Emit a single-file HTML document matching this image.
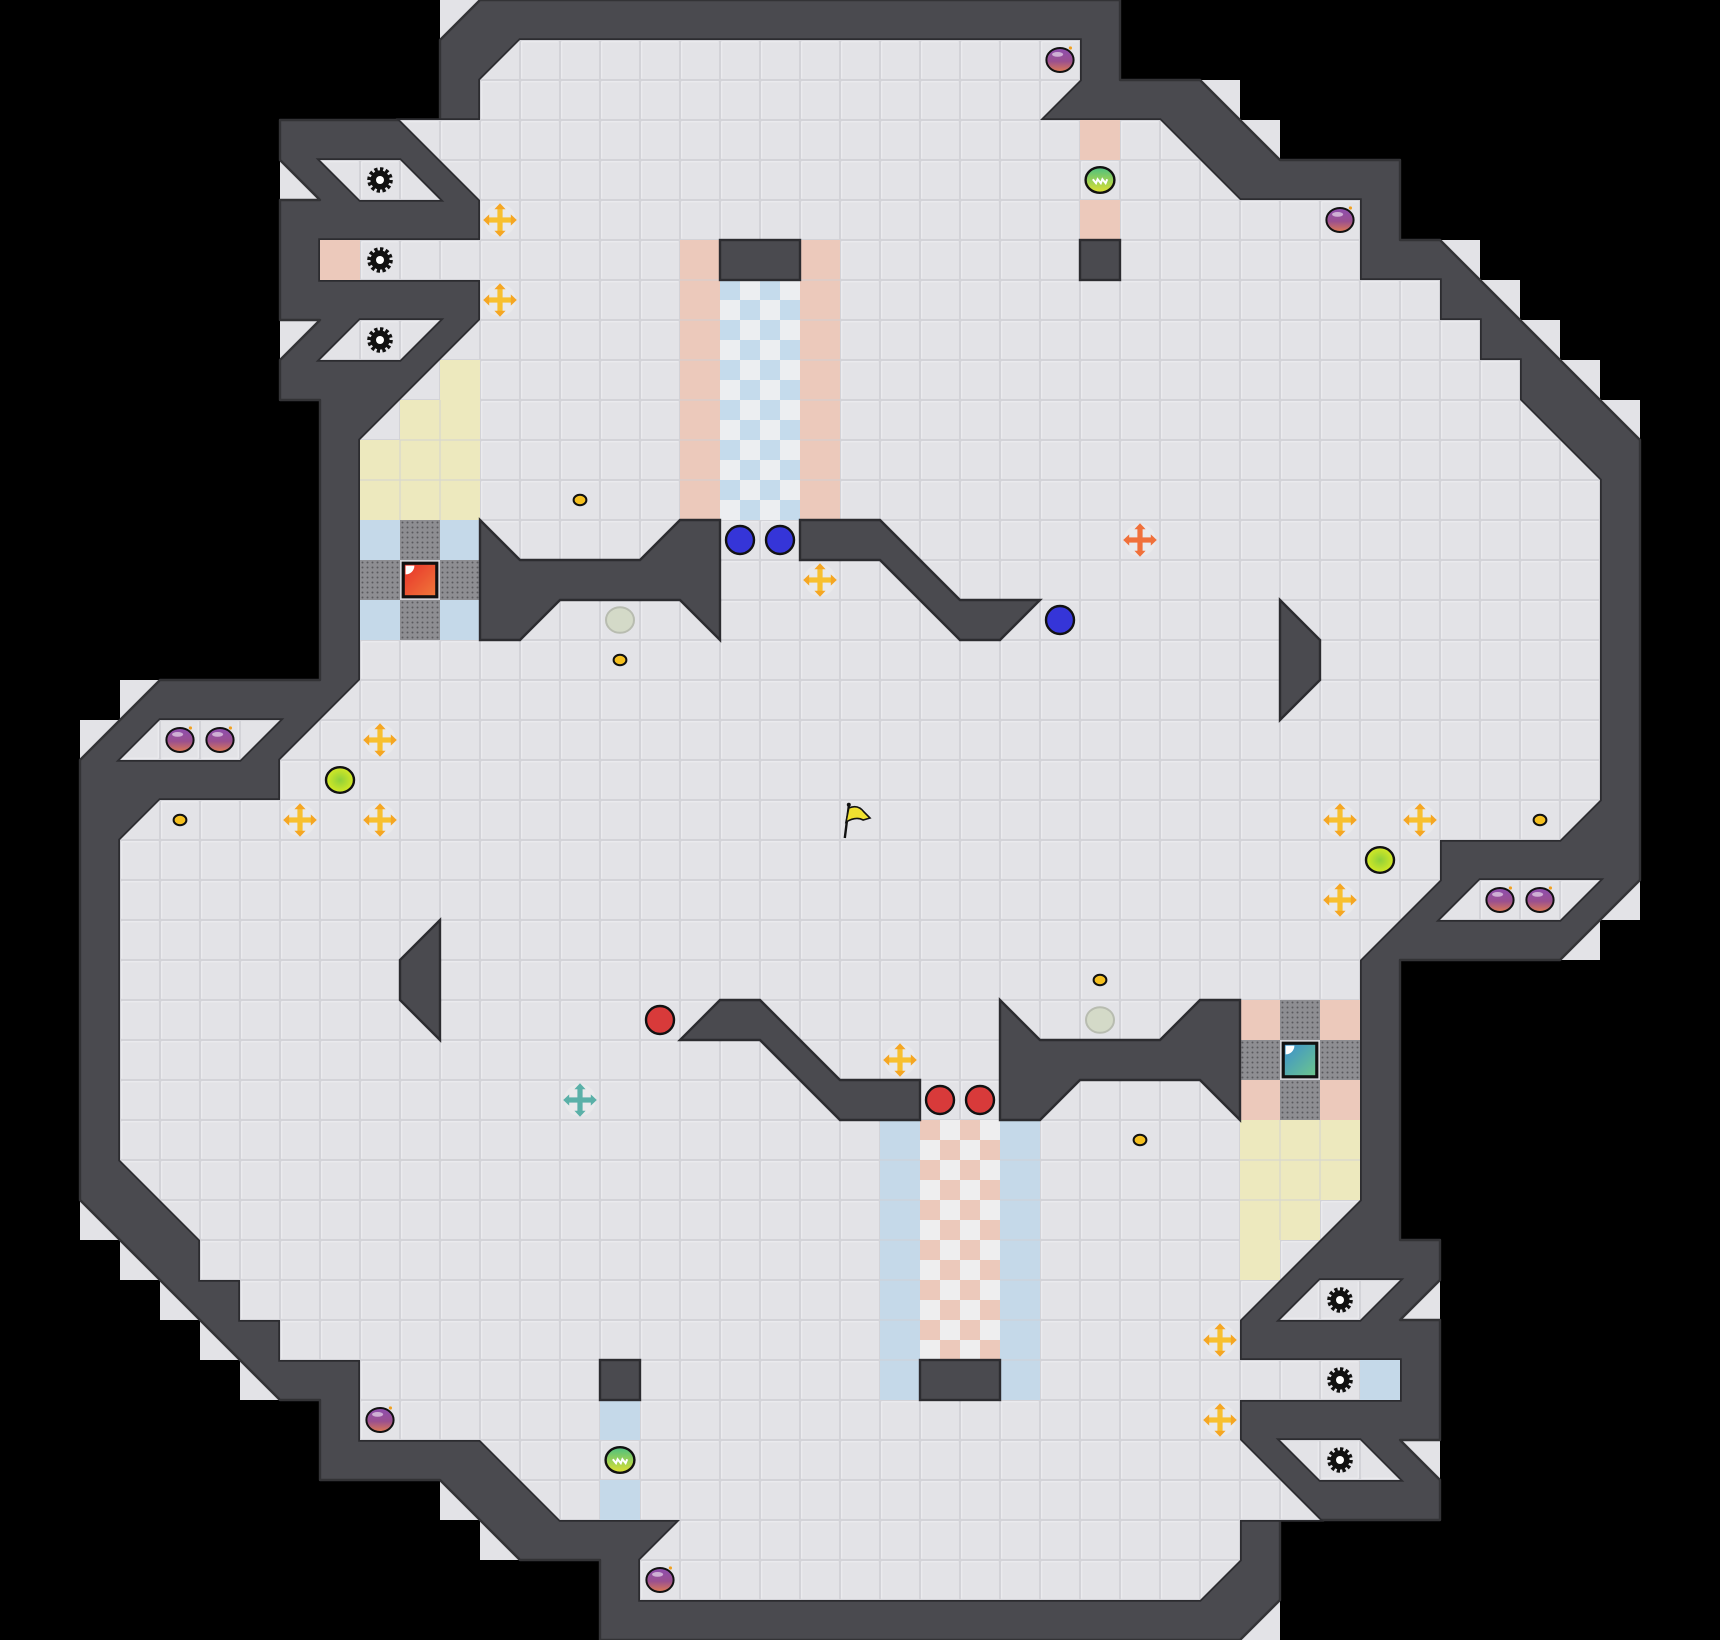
<!DOCTYPE html>
<html><head><meta charset="utf-8"><style>
html,body{margin:0;padding:0;background:#000;}
svg{display:block;}
</style></head><body>
<svg width="1720" height="1640" viewBox="0 0 1720 1640" xmlns="http://www.w3.org/2000/svg">
<defs>
<pattern id="fl" width="1" height="1" patternUnits="userSpaceOnUse">
<rect width="1" height="1" fill="#d3d3d8"/>
<rect x="0.03" y="0.03" width="0.94" height="0.94" fill="#f0f0f3"/>
<rect x="0.055" y="0.055" width="0.92" height="0.92" fill="#e3e3e7"/>
</pattern>
<pattern id="cb" width="1" height="1" patternUnits="userSpaceOnUse">
<rect width="1" height="1" fill="#eceef1"/>
<rect width="0.5" height="0.5" fill="#c5dbec"/>
<rect x="0.5" y="0.5" width="0.5" height="0.5" fill="#c5dbec"/>
</pattern>
<pattern id="cp" width="1" height="1" patternUnits="userSpaceOnUse">
<rect width="1" height="1" fill="#eeeeef"/>
<rect width="0.5" height="0.5" fill="#ecc9bb"/>
<rect x="0.5" y="0.5" width="0.5" height="0.5" fill="#ecc9bb"/>
</pattern>
<pattern id="dt" width="0.125" height="0.125" patternUnits="userSpaceOnUse">
<rect width="0.125" height="0.125" fill="#8e8e92"/>
<circle cx="0.0625" cy="0.0625" r="0.025" fill="#5a5a5e"/>
</pattern>
<linearGradient id="bomb" x1="0" y1="0" x2="0" y2="1">
<stop offset="0" stop-color="#8e4eb0"/><stop offset="0.55" stop-color="#9a5090"/><stop offset="1" stop-color="#e07a52"/>
</linearGradient>
<radialGradient id="yg" cx="0.5" cy="0.5" r="0.6">
<stop offset="0" stop-color="#8fd03a"/><stop offset="1" stop-color="#e4ee20"/>
</radialGradient>
<linearGradient id="gs" x1="0" y1="0" x2="0" y2="1">
<stop offset="0" stop-color="#4cc080"/><stop offset="1" stop-color="#e0e030"/>
</linearGradient>
<linearGradient id="rs" x1="0" y1="0" x2="1" y2="1">
<stop offset="0" stop-color="#e8302a"/><stop offset="1" stop-color="#f07a3a"/>
</linearGradient>
<linearGradient id="ts" x1="0" y1="0" x2="1" y2="1">
<stop offset="0" stop-color="#3a8ed0"/><stop offset="1" stop-color="#6ec88a"/>
</linearGradient>
<g id="bm"><ellipse rx="0.34" ry="0.3" fill="url(#bomb)" stroke="#111" stroke-width="0.05"/><ellipse cx="-0.06" cy="-0.14" rx="0.14" ry="0.06" fill="#fff" opacity="0.55"/><circle cx="0.26" cy="-0.3" r="0.04" fill="#f0a020"/></g>
<g id="gr"><circle r="0.25" fill="none" stroke="#111" stroke-width="0.14" stroke-dasharray="0.075 0.055"/><circle r="0.24" fill="#111"/><circle r="0.1" fill="#fff"/></g>
<g id="mv"><circle r="0.4" fill="#e9e9eb"/><rect x="-0.32" y="-0.065" width="0.64" height="0.13" fill="#f7c030"/><rect x="-0.065" y="-0.32" width="0.13" height="0.64" fill="#f7c030"/><path d="M-0.42,0 L-0.27,-0.14 L-0.27,0.14Z M0.42,0 L0.27,-0.14 L0.27,0.14Z M0,-0.42 L-0.14,-0.27 L0.14,-0.27Z M0,0.42 L-0.14,0.27 L0.14,0.27Z" fill="#f5a623"/></g>
<g id="mvo"><circle r="0.4" fill="#e9e9eb"/><rect x="-0.32" y="-0.065" width="0.64" height="0.13" fill="#f0703a"/><rect x="-0.065" y="-0.32" width="0.13" height="0.64" fill="#f0703a"/><path d="M-0.42,0 L-0.27,-0.14 L-0.27,0.14Z M0.42,0 L0.27,-0.14 L0.27,0.14Z M0,-0.42 L-0.14,-0.27 L0.14,-0.27Z M0,0.42 L-0.14,0.27 L0.14,0.27Z" fill="#f0703a"/></g>
<g id="mvt"><circle r="0.4" fill="#e9e9eb"/><rect x="-0.32" y="-0.065" width="0.64" height="0.13" fill="#5ab0a8"/><rect x="-0.065" y="-0.32" width="0.13" height="0.64" fill="#5ab0a8"/><path d="M-0.42,0 L-0.27,-0.14 L-0.27,0.14Z M0.42,0 L0.27,-0.14 L0.27,0.14Z M0,-0.42 L-0.14,-0.27 L0.14,-0.27Z M0,0.42 L-0.14,0.27 L0.14,0.27Z" fill="#5ab0a8"/></g>
<g id="gd"><ellipse rx="0.16" ry="0.13" fill="#f5c020" stroke="#111" stroke-width="0.05"/></g>
<g id="gball"><ellipse rx="0.36" ry="0.32" fill="url(#gs)" stroke="#111" stroke-width="0.06"/><path d="M-0.18,-0.02 l0.08,0.1 l0.04,-0.1 l0.08,0.1 l0.04,-0.1 l0.08,0.1 l0.04,-0.1" fill="none" stroke="#fff" stroke-width="0.05"/></g>

<g id="tri">
<polygon points="11,0 12,0 11,1"/>
<polygon points="30,2 31,2 31,3"/><polygon points="31,3 32,3 32,4"/>
<polygon points="36,6 37,6 37,7"/><polygon points="37,7 38,7 38,8"/><polygon points="38,8 39,8 39,9"/><polygon points="39,9 40,9 40,10"/><polygon points="40,10 41,10 41,11"/>
<polygon points="41,22 41,23 40,23"/><polygon points="40,23 40,24 39,24"/>
<polygon points="7,4 8,5 7,5"/><polygon points="7,8 8,8 7,9"/>
</g>
<g id="obs">
<polygon points="12,13 13,14 16,14 17,13 18,13 18,16 17,15 14,15 13,16 12,16"/>
<polygon points="20,13 22,13 24,15 26,15 25,16 24,16 22,14 20,14"/>
<polygon points="32,15 33,16 33,17 32,18"/>
<rect x="27" y="6" width="1" height="1"/>
<rect x="18" y="6" width="2" height="1"/>
</g>
<g id="pk">
<polygon points="8,4 10,4 11,5 9,5"/>
<polygon points="9,8 11,8 10,9 8,9"/>
<polygon points="37,22 40,22 39,23 36,23"/>
</g>
</defs>
<rect width="1720" height="1640" fill="#000"/>
<g transform="scale(40)">
<g fill="#e3e3e7"><use href="#tri"/><use href="#tri" transform="rotate(180 21.5 20.5)"/></g>
<polygon fill="#4a4a4f" stroke="#333336" stroke-width="0.06" stroke-linejoin="round" points="12,0 28,0 28,2 30,2 32,4 35,4 35,6 36,6 41,11 41,22 39,24 35,24 35,31 36,31 36,32 35,33 36,33 36,36 35,36 36,37 36,38 33,38 32,38 32,40 31,41 15,41 15,39 13,39 11,37 8,37 8,35 7,35 2,30 2,19 4,17 8,17 8,10 7,10 7,9 8,8 7,8 7,5 8,5 7,4 7,3 10,3 11,3 11,1"/>
<polygon fill="url(#fl)" stroke="#2c2c30" stroke-width="0.09" paint-order="stroke" stroke-linejoin="miter" points="13,1 27,1 27,2 26,3 29,3 31,5 34,5 34,7 36,7 36,8 37,8 37,9 38,9 38,10 40,12 40,20 39,21 36,21 36,22 34,24 34,30 31,33 31,34 35,34 35,35 31,35 31,36 33,38 31,38 31,39 30,40 16,40 16,39 17,38 14,38 12,36 9,36 9,34 7,34 7,33 6,33 6,32 5,32 5,31 3,29 3,21 4,20 7,20 7,19 9,17 9,11 12,8 12,7 8,7 8,6 12,6 12,5 10,3 12,3 12,2"/>
<g fill="url(#fl)" stroke="#2c2c30" stroke-width="0.09" paint-order="stroke"><use href="#pk"/><use href="#pk" transform="rotate(180 21.5 20.5)"/></g>
<g fill="#ecc9bb">
<rect x="17" y="6" width="1" height="7"/><rect x="20" y="6" width="1" height="7"/>
<rect x="27" y="3" width="1" height="1"/><rect x="27" y="5" width="1" height="1"/>
<rect x="8" y="6" width="1" height="1"/>
<rect x="31" y="25" width="1" height="1"/><rect x="33" y="25" width="1" height="1"/><rect x="31" y="27" width="1" height="1"/><rect x="33" y="27" width="1" height="1"/>
</g>
<rect x="18" y="7" width="2" height="6" fill="url(#cb)"/>
<rect x="23" y="28" width="2" height="6" fill="url(#cp)"/>
<g fill="#c5d9e9">
<rect x="22" y="28" width="1" height="7"/><rect x="25" y="28" width="1" height="7"/>
<rect x="15" y="35" width="1" height="1"/><rect x="15" y="37" width="1" height="1"/>
<rect x="34" y="34" width="1" height="1"/>
<rect x="9" y="13" width="1" height="1"/><rect x="11" y="13" width="1" height="1"/><rect x="9" y="15" width="1" height="1"/><rect x="11" y="15" width="1" height="1"/>
</g>
<g fill="#ede9be">
<rect x="11" y="9" width="1" height="1"/><rect x="10" y="10" width="2" height="1"/><rect x="9" y="11" width="3" height="2"/>
<rect x="31" y="31" width="1" height="1"/><rect x="31" y="30" width="2" height="1"/><rect x="31" y="28" width="3" height="2"/>
</g>
<g fill="url(#dt)">
<rect x="10" y="13" width="1" height="1"/><rect x="9" y="14" width="1" height="1"/><rect x="11" y="14" width="1" height="1"/><rect x="10" y="15" width="1" height="1"/>
<rect x="32" y="25" width="1" height="1"/><rect x="31" y="26" width="1" height="1"/><rect x="33" y="26" width="1" height="1"/><rect x="32" y="27" width="1" height="1"/>
</g>
<g stroke="#d0d0d4" stroke-width="0.03" fill="none" opacity="0.7">
<path d="M17,7H18M17,8H18M17,9H18M17,10H18M17,11H18M17,12H18M20,7H21M20,8H21M20,9H21M20,10H21M20,11H21M20,12H21M22,29H23M22,30H23M22,31H23M22,32H23M22,33H23M22,34H23M25,29H26M25,30H26M25,31H26M25,32H26M25,33H26M25,34H26M9,12H12M10,11H12M11,10V13M10,11V13M9,29H12M31,29H34M31,30H33M32,28V31M33,28V30"/>
</g>
<rect x="10.08" y="14.08" width="0.84" height="0.84" fill="url(#rs)" stroke="#111" stroke-width="0.08"/>
<path d="M10.14,14.14 h0.22 a0.22,0.22 0 0 1 -0.22,0.22z" fill="#fff"/>
<rect x="32.08" y="26.08" width="0.84" height="0.84" fill="url(#ts)" stroke="#111" stroke-width="0.08"/>
<path d="M32.14,26.14 h0.22 a0.22,0.22 0 0 1 -0.22,0.22z" fill="#fff"/>
<g fill="#4a4a4f" stroke="#2c2c30" stroke-width="0.06"><use href="#obs"/><use href="#obs" transform="rotate(180 21.5 20.5)"/></g>
<use href="#bm" x="26.5" y="1.5"/><use href="#bm" x="33.5" y="5.5"/><use href="#bm" x="4.5" y="18.5"/><use href="#bm" x="5.5" y="18.5"/>
<use href="#bm" x="37.5" y="22.5"/><use href="#bm" x="38.5" y="22.5"/><use href="#bm" x="9.5" y="35.5"/><use href="#bm" x="16.5" y="39.5"/>
<use href="#gr" x="9.5" y="4.5"/><use href="#gr" x="9.5" y="6.5"/><use href="#gr" x="9.5" y="8.5"/>
<use href="#gr" x="33.5" y="32.5"/><use href="#gr" x="33.5" y="34.5"/><use href="#gr" x="33.5" y="36.5"/>
<use href="#mv" x="12.5" y="5.5"/><use href="#mv" x="12.5" y="7.5"/><use href="#mv" x="20.5" y="14.5"/><use href="#mv" x="9.5" y="18.5"/>
<use href="#mv" x="7.5" y="20.5"/><use href="#mv" x="9.5" y="20.5"/><use href="#mv" x="33.5" y="20.5"/><use href="#mv" x="35.5" y="20.5"/>
<use href="#mv" x="33.5" y="22.5"/><use href="#mv" x="22.5" y="26.5"/><use href="#mv" x="30.5" y="33.5"/><use href="#mv" x="30.5" y="35.5"/>
<use href="#mvo" x="28.5" y="13.5"/><use href="#mvt" x="14.5" y="27.5"/>
<use href="#gd" x="14.5" y="12.5"/><use href="#gd" x="15.5" y="16.5"/><use href="#gd" x="4.5" y="20.5"/><use href="#gd" x="38.5" y="20.5"/>
<use href="#gd" x="27.5" y="24.5"/><use href="#gd" x="28.5" y="28.5"/>
<g stroke="#111" stroke-width="0.06">
<ellipse cx="8.5" cy="19.5" rx="0.35" ry="0.32" fill="url(#yg)"/><ellipse cx="34.5" cy="21.5" rx="0.35" ry="0.32" fill="url(#yg)"/>
<circle cx="18.5" cy="13.5" r="0.35" fill="#3535d8"/><circle cx="19.5" cy="13.5" r="0.35" fill="#3535d8"/><circle cx="26.5" cy="15.5" r="0.35" fill="#3535d8"/>
<circle cx="16.5" cy="25.5" r="0.35" fill="#d83a3a"/><circle cx="23.5" cy="27.5" r="0.35" fill="#d83a3a"/><circle cx="24.5" cy="27.5" r="0.35" fill="#d83a3a"/>
</g>
<ellipse cx="15.5" cy="15.5" rx="0.35" ry="0.32" fill="#d4dac8" stroke="#b8bcb0" stroke-width="0.05"/>
<ellipse cx="27.5" cy="25.5" rx="0.35" ry="0.32" fill="#d4dac8" stroke="#b8bcb0" stroke-width="0.05"/>
<use href="#gball" x="27.5" y="4.5"/><use href="#gball" x="15.5" y="36.5"/>
<path d="M21.12,20.95 L21.22,20.15" stroke="#111" stroke-width="0.06"/>
<circle cx="21.22" cy="20.12" r="0.05" fill="#111"/>
<path d="M21.22,20.2 Q21.45,20.1 21.6,20.3 L21.75,20.45 L21.58,20.5 Q21.4,20.4 21.15,20.55Z" fill="#f0e030" stroke="#111" stroke-width="0.04"/>
</g>
</svg>
</body></html>
